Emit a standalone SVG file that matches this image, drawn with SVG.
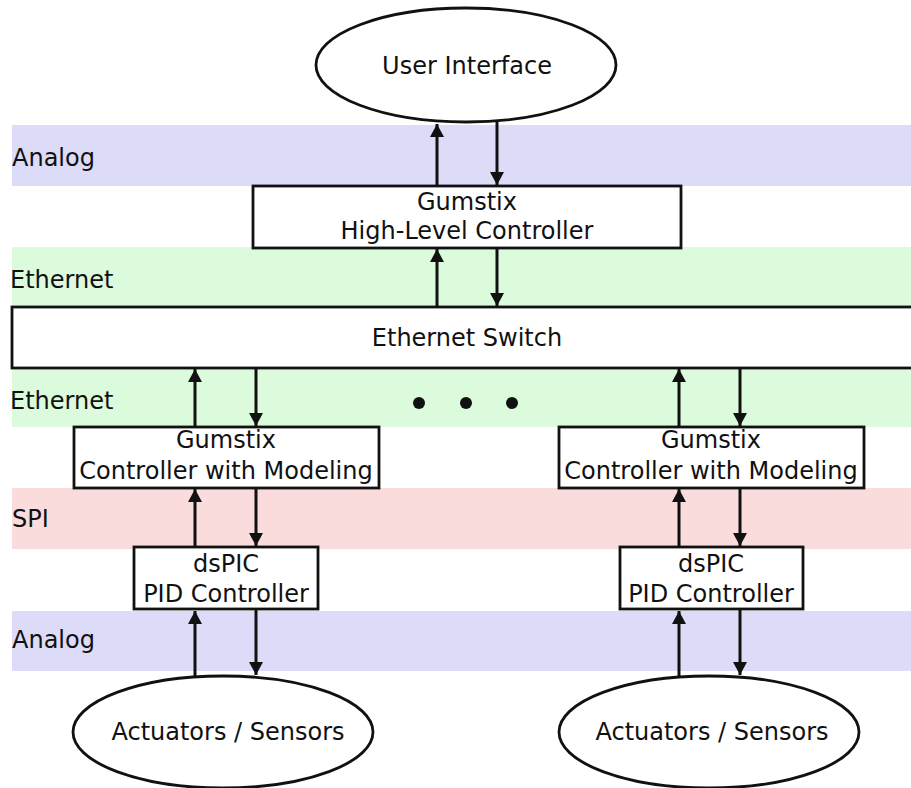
<svg xmlns="http://www.w3.org/2000/svg" width="911" height="788" viewBox="0 0 911 788">
<defs>
<style>
text{font-family:"DejaVu Sans","Liberation Sans",sans-serif;font-size:24px;fill:#111;}
.c{text-anchor:middle;}
.box{fill:#fff;stroke:#111;stroke-width:2.8;}
.ln{stroke:#111;stroke-width:3;fill:none;marker-end:url(#ah);}
</style>
<marker id="ah" viewBox="0 0 13 14" markerUnits="userSpaceOnUse" markerWidth="13" markerHeight="14" refX="13" refY="7" orient="auto">
<path d="M0,0 L13,7 L0,14 z" fill="#111"/>
</marker>
</defs>
<rect width="911" height="788" fill="#fff"/>
<g id="bands">
<rect x="12" y="125" width="899" height="61" fill="#dcdcf8"/>
<rect x="12" y="247" width="899" height="60" fill="#dcfadc"/>
<rect x="12" y="368" width="899" height="59" fill="#dcfadc"/>
<rect x="12" y="488" width="899" height="61" fill="#fadcdc"/>
<rect x="12" y="611" width="899" height="60" fill="#dcdcf8"/>
<text x="12" y="166">Analog</text>
<text x="10" y="288">Ethernet</text>
<text x="10" y="409">Ethernet</text>
<text x="12" y="527">SPI</text>
<text x="12" y="648">Analog</text>
</g>
<g id="connectors">
<line class="ln" x1="437" y1="186" x2="437" y2="124"/>
<line class="ln" x1="497" y1="122" x2="497" y2="185"/>
<line class="ln" x1="437" y1="307" x2="437" y2="249"/>
<line class="ln" x1="497" y1="248" x2="497" y2="306"/>
<line class="ln" x1="195" y1="427" x2="195" y2="369"/>
<line class="ln" x1="256" y1="368" x2="256" y2="426"/>
<line class="ln" x1="679" y1="427" x2="679" y2="369"/>
<line class="ln" x1="740" y1="368" x2="740" y2="426"/>
<line class="ln" x1="195" y1="547" x2="195" y2="489"/>
<line class="ln" x1="256" y1="488" x2="256" y2="546"/>
<line class="ln" x1="679" y1="547" x2="679" y2="489"/>
<line class="ln" x1="740" y1="488" x2="740" y2="546"/>
<line class="ln" x1="195" y1="676" x2="195" y2="611"/>
<line class="ln" x1="256" y1="609" x2="256" y2="675"/>
<line class="ln" x1="679" y1="676" x2="679" y2="611"/>
<line class="ln" x1="740" y1="609" x2="740" y2="675"/>
</g>
<g id="user-interface">
<ellipse class="box" cx="466" cy="65" rx="150" ry="57"/>
<text class="c" x="467" y="74">User Interface</text>
</g>
<g id="hl-controller">
<rect class="box" x="253" y="186" width="428" height="62"/>
<text class="c" x="467" y="210">Gumstix</text>
<text class="c" x="467" y="239">High-Level Controller</text>
</g>
<g id="ethernet-switch">
<rect class="box" x="12" y="307" width="905" height="61"/>
<text class="c" x="467" y="346">Ethernet Switch</text>
</g>
<g id="dots">
<circle cx="419" cy="403" r="6" fill="#111"/>
<circle cx="466" cy="403" r="6" fill="#111"/>
<circle cx="512" cy="403" r="6" fill="#111"/>
</g>
<g id="gumstix-left">
<rect class="box" x="74" y="427" width="305" height="61"/>
<text class="c" x="226" y="448">Gumstix</text>
<text class="c" x="226" y="479">Controller with Modeling</text>
</g>
<g id="gumstix-right">
<rect class="box" x="559" y="427" width="305" height="61"/>
<text class="c" x="711" y="448">Gumstix</text>
<text class="c" x="711" y="479">Controller with Modeling</text>
</g>
<g id="dspic-left">
<rect class="box" x="134" y="547" width="184" height="62"/>
<text class="c" x="226" y="572">dsPIC</text>
<text class="c" x="226" y="602">PID Controller</text>
</g>
<g id="dspic-right">
<rect class="box" x="620" y="547" width="183" height="62"/>
<text class="c" x="711" y="572">dsPIC</text>
<text class="c" x="711" y="602">PID Controller</text>
</g>
<g id="actuators-left">
<ellipse class="box" cx="223" cy="732" rx="150" ry="56"/>
<text class="c" x="228" y="740">Actuators / Sensors</text>
</g>
<g id="actuators-right">
<ellipse class="box" cx="709" cy="732" rx="150" ry="56"/>
<text class="c" x="712" y="740">Actuators / Sensors</text>
</g>
</svg>
